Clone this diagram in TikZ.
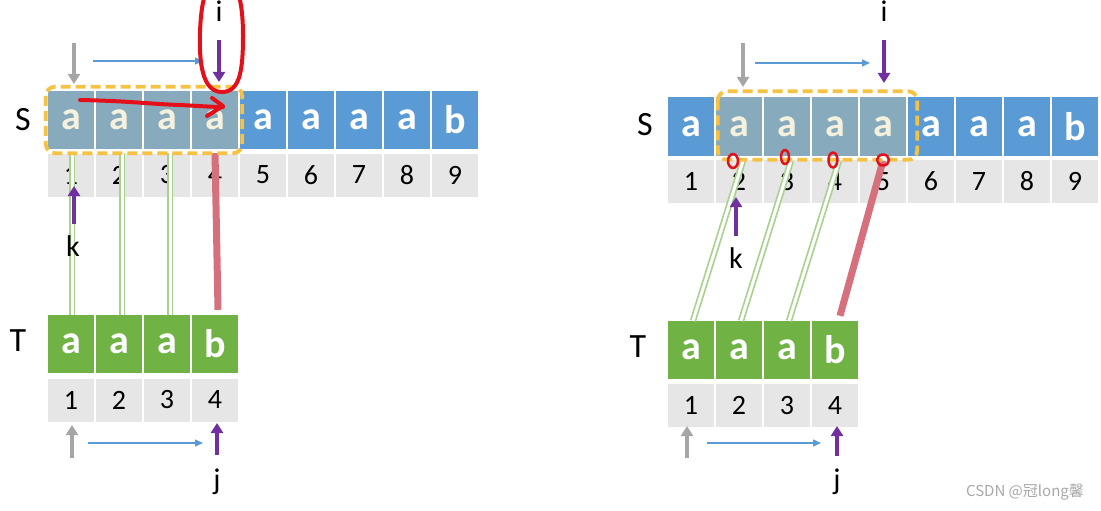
\documentclass[tikz,border=0pt]{standalone}
\usepackage{fontspec}
\setmainfont{Carlito}
\newfontfamily\cjk{Noto Sans CJK SC}
\usetikzlibrary{arrows.meta,calc}

\definecolor{sblue}{HTML}{5B9BD5}
\definecolor{shl}{HTML}{87AABD}
\definecolor{tgreen}{HTML}{70B244}
\definecolor{idxgray}{HTML}{E7E6E6}
\definecolor{yboxc}{HTML}{F6C243}
\definecolor{pptr}{HTML}{7030A0}
\definecolor{gptr}{HTML}{A6A6A6}
\definecolor{mline}{HTML}{D5707C}
\definecolor{okline}{HTML}{A9D18E}
\definecolor{penred}{HTML}{E3101A}
\definecolor{cream}{HTML}{F4F1DE}
\definecolor{wmark}{HTML}{A8A8A8}

\tikzset{
 cell/.style={minimum width=46pt, minimum height=58pt, inner sep=0pt,
   font=\fontsize{40}{40}\selectfont\bfseries, text=white},
 scell/.style={cell, fill=sblue},
 hcell/.style={cell, fill=shl, text=cream},
 tcell/.style={cell, fill=tgreen},
 icell/.style={minimum width=46pt, minimum height=43pt, inner sep=0pt,
   fill=idxgray, font=\fontsize{28}{28}\selectfont},
 lab/.style={font=\fontsize{30}{30}\selectfont, inner sep=0pt},
 biglab/.style={font=\fontsize{34}{34}\selectfont, inner sep=0pt},
 gptrs/.style={draw=gptr, line width=3.8pt, -{Triangle[width=12pt,length=10pt]}},
 pptrs/.style={draw=pptr, line width=3.8pt, -{Triangle[width=12pt,length=10pt]}},
 mv/.style={draw=sblue, line width=1.3pt, -{Triangle[width=7pt,length=8pt]}},
 okln/.style={draw=okline, double=white, double distance=3pt, line width=1.7pt},
 badln/.style={draw=mline, line width=7pt},
 ybx/.style={draw=yboxc, line width=3.8pt, dash pattern=on 10pt off 5pt, rounded corners=9pt},
 redpen/.style={draw=penred, line width=4pt, line cap=round, line join=round},
}

\begin{document}
\begin{tikzpicture}[x=1pt,y=-1pt]
\useasboundingbox (0,0) rectangle (1101,511);

% ================= LEFT PANEL =================
\foreach \st/\t [count=\k] in {hcell/a,hcell/a,hcell/a,hcell/a,scell/a,scell/a,scell/a,scell/a,scell/b}{
  \node[\st] (ls\k) at ({71+48*(\k-1)},120) {\t};
  \node[icell] (li\k) at ({71+48*(\k-1)},175) {\k};
}
\foreach \t [count=\k] in {a,a,a,b}{
  \node[tcell] (lt\k) at ({71+48*(\k-1)},344) {\t};
  \node[icell] (lti\k) at ({71+48*(\k-1)},400) {\k};
}
\node[biglab] (lS) at (23,120) {S};
\node[biglab] (lT) at (18,341) {T};

% matches / mismatch
\draw[okln] ([shift={(1,4)}]ls1.south) -- ([shift={(1,0)}]lt1.north);
\draw[okln] ([shift={(3,4)}]ls2.south) -- ([shift={(3,0)}]lt2.north);
\draw[okln] ([shift={(3,4)}]ls3.south) -- ([shift={(3,0)}]lt3.north);
\draw[badln] ([shift={(0,4)}]ls4.south) -- ([shift={(3,-5)}]lt4.north);

% window
\draw[ybx] ([shift={(-2,-4)}]ls1.north west) rectangle ([shift={(4,4)}]ls4.south east);

% pointers top
\coordinate (lga) at (74,43);  \coordinate (lgb) at (74,84);
\coordinate (lba) at (93,61);  \coordinate (lbb) at (203,61);
\coordinate (lpa) at (219,40); \coordinate (lpb) at (219,82);
\draw[gptrs] (lga) -- (lgb);
\draw[mv] (lba) -- (lbb);
\draw[pptrs] (lpa) -- (lpb);
\node[lab] (li) at (219,11) {i};
% k
\coordinate (lka) at (74,224); \coordinate (lkb) at (74,186);
\draw[pptrs] (lka) -- (lkb);
\node[lab] (lk) at (73,246) {k};
% bottom
\coordinate (lbga) at (72,458);  \coordinate (lbgb) at (72,425);
\coordinate (lbba) at (88,443);  \coordinate (lbbb) at (203,443);
\coordinate (lbpa) at (217,455); \coordinate (lbpb) at (217,423);
\draw[gptrs] (lbga) -- (lbgb);
\draw[mv] (lbba) -- (lbbb);
\draw[pptrs] (lbpa) -- (lbpb);
\node[lab] (lj) at (217,482) {j};

% hand-drawn marks
\draw[redpen] (222,92) .. controls (202,92) and (199,62) .. (200,32)
   .. controls (201,5) and (205,-22) .. (222,-22)
   .. controls (240,-22) and (243,10) .. (243,36)
   .. controls (243,70) and (240,92) .. (222,92);
\draw[redpen] (80,100) .. controls (130,101) and (150,104) .. (180,105)
   .. controls (200,106) and (212,107) .. (223,107);
\draw[redpen] (212,98) -- (223,106) -- (207,116);

% ================= RIGHT PANEL =================
\foreach \st/\t [count=\k] in {scell/a,hcell/a,hcell/a,hcell/a,hcell/a,scell/a,scell/a,scell/a,scell/b}{
  \node[\st] (rs\k) at ({691+48*(\k-1)},126.5) {\t};
  \node[icell] (ri\k) at ({691+48*(\k-1)},181.5) {\k};
}
\foreach \t [count=\k] in {a,a,a,b}{
  \node[tcell] (rt\k) at ({691+48*(\k-1)},350) {\t};
  \node[icell] (rti\k) at ({691+48*(\k-1)},405.5) {\k};
}
\node[biglab] (rS) at (645,125) {S};
\node[biglab] (rT) at (638,347) {T};

\draw[okln] ([shift={(4,5)}]rs2.south) -- ([shift={(2,0)}]rt1.north);
\draw[okln] ([shift={(4,5)}]rs3.south) -- ([shift={(2,0)}]rt2.north);
\draw[okln] ([shift={(4,5)}]rs4.south) -- ([shift={(2,0)}]rt3.north);
\draw[badln] ([shift={(0,5)}]rs5.south) -- ([shift={(5,-5)}]rt4.north);

\draw[ybx] ([shift={(2,-6)}]rs2.north west) rectangle ([shift={(11,4)}]rs5.south east);

% small red marks
\draw[redpen, line width=2.5pt] (733,161) ellipse [x radius=5, y radius=7];
\draw[redpen, line width=2.5pt] (785,157) ellipse [x radius=4, y radius=7];
\draw[redpen, line width=2.5pt] (833,160) ellipse [x radius=4.5, y radius=7.5];
\draw[redpen, line width=2.5pt] (883,160) ellipse [x radius=6, y radius=5.5];

% pointers top
\coordinate (rga) at (743,43);  \coordinate (rgb) at (743,87);
\coordinate (rba) at (755,63);  \coordinate (rbb) at (870,63);
\coordinate (rpa) at (884,40);  \coordinate (rpb) at (884,83);
\draw[gptrs] (rga) -- (rgb);
\draw[mv] (rba) -- (rbb);
\draw[pptrs] (rpa) -- (rpb);
\node[lab] (ri) at (884,11) {i};
% k
\coordinate (rka) at (736,236); \coordinate (rkb) at (736,197);
\draw[pptrs] (rka) -- (rkb);
\node[lab] (rk) at (736,258) {k};
% bottom
\coordinate (rbga) at (687,458);  \coordinate (rbgb) at (687,426);
\coordinate (rbba) at (707,443);  \coordinate (rbbb) at (821,443);
\coordinate (rbpa) at (837,456);  \coordinate (rbpb) at (837,426);
\draw[gptrs] (rbga) -- (rbgb);
\draw[mv] (rbba) -- (rbbb);
\draw[pptrs] (rbpa) -- (rbpb);
\node[lab] (rj) at (837,482) {j};

% watermark
\node[text=wmark, font=\cjk\fontsize{15}{15}\selectfont, inner sep=0pt] (wm) at (1025,492) {CSDN @冠long馨};
\end{tikzpicture}
\end{document}
